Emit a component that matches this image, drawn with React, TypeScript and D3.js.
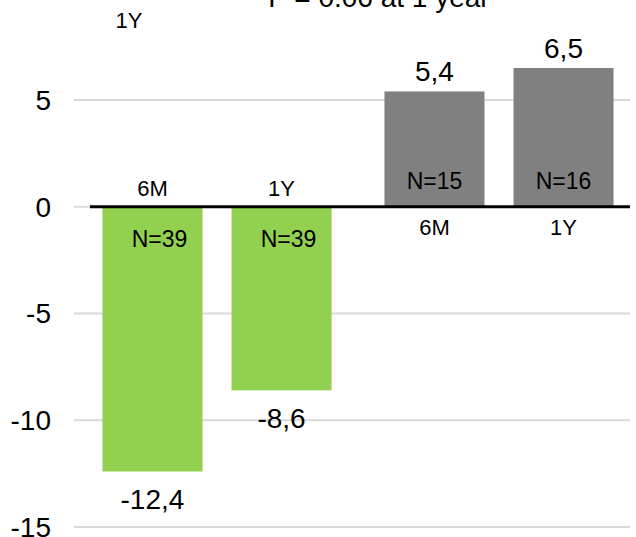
import React, { useRef, useEffect } from "react";
import * as d3 from "d3";

// two groups (green / gray), each with 6M and 1Y bars
const groups = ["A", "B"];
const periods = ["6M", "1Y"];
const greenValues = [-12.4, -8.6];
const grayValues = [5.4, 6.5];
const greenN = [39, 39];
const grayN = [15, 16];
const yTicks = [5, 0, -5, -10, -15];
const title = "P = 0.06 at 1 year";

const App = () => {
  const svgRef = useRef(null);

  useEffect(() => {
    const width = 636;
    const height = 537;
    const svg = d3.select(svgRef.current);
    svg.selectAll("*").remove();

    const y = d3.scaleLinear().domain([-15, 5]).range([527, 100]);
    const x0 = d3.scaleBand().domain(groups).range([76, 640]).padding(0);
    const x1 = d3.scaleBand().domain(periods).range([0, x0.bandwidth()])
      .paddingInner(0.225).paddingOuter(0.205);

    const font = "Liberation Sans, Arial, sans-serif";
    const fmt = (v: number) => d3.format(".1f")(v).replace(".", ",").replace("\u2212", "-");

    // gridlines
    svg.append("g").selectAll("line")
      .data(yTicks)
      .enter()
      .append("line")
      .attr("x1", 74)
      .attr("x2", 630)
      .attr("y1", d => y(d))
      .attr("y2", d => y(d))
      .attr("stroke", "#d9d9d9")
      .attr("stroke-width", 2);

    // tick labels
    svg.append("g").selectAll("text")
      .data(yTicks)
      .enter()
      .append("text")
      .attr("x", 51)
      .attr("y", d => y(d))
      .attr("dy", "0.35em")
      .attr("text-anchor", "end")
      .attr("font-family", font)
      .attr("font-size", 28)
      .text(d => d);

    const series = [
      { group: "A", values: greenValues, n: greenN, color: "#92d050" },
      { group: "B", values: grayValues, n: grayN, color: "#808080" },
    ];

    series.forEach(s => {
      const g = svg.append("g").attr("transform", `translate(${x0(s.group)},0)`);
      const rows = periods.map((p, i) => ({ p, v: s.values[i], n: s.n[i] }));

      g.selectAll("rect")
        .data(rows)
        .enter()
        .append("rect")
        .attr("x", d => x1(d.p))
        .attr("width", x1.bandwidth())
        .attr("y", d => y(Math.max(0, d.v)))
        .attr("height", d => Math.abs(y(d.v) - y(0)))
        .attr("fill", s.color);

      // value labels
      g.selectAll("text.val")
        .data(rows)
        .enter()
        .append("text")
        .attr("class", "val")
        .attr("x", d => x1(d.p) + x1.bandwidth() / 2)
        .attr("y", d => d.v >= 0 ? y(d.v) - 20 : y(d.v) + 28)
        .attr("dy", "0.35em")
        .attr("text-anchor", "middle")
        .attr("font-family", font)
        .attr("font-size", 28)
        .text(d => fmt(d.v));

      // N labels inside bars
      g.selectAll("text.n")
        .data(rows)
        .enter()
        .append("text")
        .attr("class", "n")
        .attr("x", d => x1(d.p) + x1.bandwidth() / 2 + (d.v < 0 ? 7 : 0))
        .attr("y", d => d.v < 0 ? y(0) + 32 : y(0) - 26)
        .attr("dy", "0.35em")
        .attr("text-anchor", "middle")
        .attr("font-family", font)
        .attr("font-size", 23)
        .text(d => `N=${d.n}`);

      // category labels on opposite side of axis
      g.selectAll("text.cat")
        .data(rows)
        .enter()
        .append("text")
        .attr("class", "cat")
        .attr("x", d => x1(d.p) + x1.bandwidth() / 2)
        .attr("y", d => d.v < 0 ? y(0) - 18 : y(0) + 21)
        .attr("dy", "0.35em")
        .attr("text-anchor", "middle")
        .attr("font-family", font)
        .attr("font-size", 22)
        .text(d => d.p);
    });

    // zero axis line
    svg.append("line")
      .attr("x1", 90)
      .attr("x2", 630)
      .attr("y1", y(0))
      .attr("y2", y(0))
      .attr("stroke", "#000")
      .attr("stroke-width", 3);

    // clipped title and stray label at top
    svg.append("text")
      .attr("x", 379)
      .attr("y", 7)
      .attr("text-anchor", "middle")
      .attr("font-family", font)
      .attr("font-size", 28)
      .text(title);

    svg.append("text")
      .attr("x", 129)
      .attr("y", 20)
      .attr("dy", "0.35em")
      .attr("text-anchor", "middle")
      .attr("font-family", font)
      .attr("font-size", 22)
      .text("1Y");

    svg.attr("width", width).attr("height", height);
  }, []);

  return (
    <svg ref={svgRef} style={{ position: "absolute", left: 0, top: 0, background: "#fff" }}></svg>
  );
};

export default App;
